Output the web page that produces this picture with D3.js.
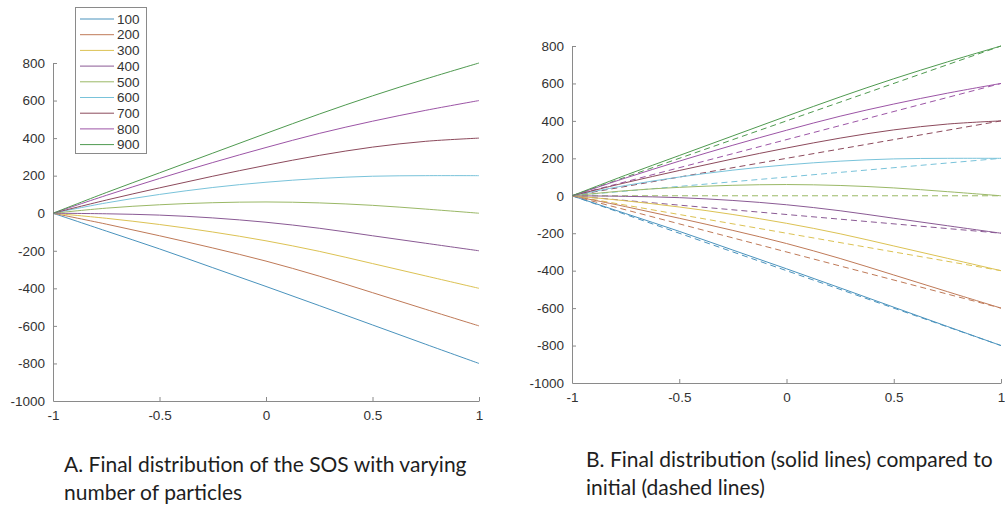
<!DOCTYPE html>
<html><head><meta charset="utf-8">
<script src="https://cdn.jsdelivr.net/npm/d3@7"></script>
<style>body{margin:0;background:#fff}svg{display:block}</style>
</head><body>
<svg id="c" width="1005" height="507"></svg>
<script>
// ---- data ----
const xs = [-1, -0.75, -0.5, -0.25, 0, 0.25, 0.5, 0.75, 1];
const particles = ["100","200","300","400","500","600","700","800","900"];
const final100 = [0, -95, -190, -290, -390, -492, -595, -698, -800];
const final200 = [0, -58, -120, -185, -255, -335, -423, -512, -600];
const final300 = [0, -27, -60, -100, -147, -203, -268, -334, -400];
const final400 = [0, -3, -10, -25, -48, -80, -120, -160, -200];
const final500 = [0, 27, 45, 56, 60, 55, 42, 22, 0];
const final600 = [0, 55, 100, 137, 165, 185, 197, 200, 200];
const final700 = [0, 70, 135, 197, 255, 308, 352, 383, 400];
const final800 = [0, 95, 185, 270, 350, 425, 490, 548, 600];
const final900 = [0, 110, 215, 320, 425, 528, 625, 715, 800];
const initialXs = [-1, 1];
const initial100 = [0, -800];
const initial200 = [0, -600];
const initial300 = [0, -400];
const initial400 = [0, -200];
const initial500 = [0, 0];
const initial600 = [0, 200];
const initial700 = [0, 400];
const initial800 = [0, 600];
const initial900 = [0, 800];
const xTicks = [-1, -0.5, 0, 0.5, 1];
const yTicks = [-1000, -800, -600, -400, -200, 0, 200, 400, 600, 800];
const captionA = ["A. Final distribution of the SOS with varying", "number of particles"];
const captionB = ["B. Final distribution (solid lines) compared to", "initial (dashed lines)"];

const finals = [final100, final200, final300, final400, final500, final600, final700, final800, final900];
const initials = [initial100, initial200, initial300, initial400, initial500, initial600, initial700, initial800, initial900];
const colors = ["#4a93bd", "#bf7a58", "#dcc253", "#8a5a94", "#9ab866", "#79c3da", "#8c4a5c", "#9c55a6", "#4f9a50"];

const svg = d3.select("#c");
const axisColor = "#8a8a8a";
const textColor = "#333";
const tickFont = "13.5px";

function panel(left, right, top, bottom, withInitial, withLegend) {
  const x = d3.scaleLinear().domain([-1, 1]).range([left, right]);
  const y = d3.scaleLinear().domain([-1000, 800]).range([bottom, top]);
  const g = svg.append("g");
  const xa = g.append("g").attr("transform", `translate(0,${bottom})`)
    .call(d3.axisBottom(x).tickValues(xTicks).tickSize(-4).tickSizeOuter(0).tickPadding(9).tickFormat(d => String(d)));
  const ya = g.append("g").attr("transform", `translate(${left},0)`)
    .call(d3.axisLeft(y).tickValues(yTicks).tickSize(-4).tickSizeOuter(0).tickPadding(8).tickFormat(d => String(d)));
  [xa, ya].forEach(a => {
    a.select(".domain").attr("stroke", axisColor);
    a.selectAll(".tick line").attr("stroke", axisColor);
    a.selectAll(".tick text").attr("fill", textColor).style("font-family", "Liberation Sans, Arial, sans-serif").style("font-size", tickFont);
  });
  ya.selectAll(".tick").filter(d => d === -1000).select("line").remove();
  const line = d3.line().x(d => x(d[0])).y(d => y(d[1])).curve(d3.curveCatmullRom.alpha(0.5));
  if (withInitial) {
    initials.forEach((s, i) => {
      g.append("path").datum(initialXs.map((xv, j) => [xv, s[j]]))
        .attr("d", d3.line().x(d => x(d[0])).y(d => y(d[1])))
        .attr("fill", "none").attr("stroke", colors[i]).attr("stroke-width", 1)
        .attr("stroke-dasharray", "6,4");
    });
  }
  finals.forEach((s, i) => {
    g.append("path").datum(xs.map((xv, j) => [xv, s[j]]))
      .attr("d", line).attr("fill", "none").attr("stroke", colors[i]).attr("stroke-width", 1);
  });
  if (withLegend) {
    const lg = svg.append("g");
    lg.append("rect").attr("x", 75.5).attr("y", 7.5).attr("width", 71).attr("height", 146)
      .attr("fill", "#fff").attr("stroke", axisColor);
    particles.forEach((p, i) => {
      const yy = 19 + i * 15.7;
      lg.append("line").attr("x1", 80).attr("x2", 114).attr("y1", yy).attr("y2", yy)
        .attr("stroke", colors[i]).attr("stroke-width", 1);
      lg.append("text").attr("x", 117).attr("y", yy).attr("dy", "0.35em").text(p)
        .attr("fill", textColor).style("font-family", "Liberation Sans, Arial, sans-serif").style("font-size", tickFont);
    });
  }
}

panel(53, 479, 63, 401, false, true);
panel(572, 1001, 46, 383, true, false);

function caption(lines, x0, y0) {
  lines.forEach((t, i) => {
    svg.append("text").attr("x", x0).attr("y", y0 + i * 28).text(t)
      .attr("fill", "#1e1e1e").style("font-family", "Lato, 'Open Sans', sans-serif").style("font-size", "21px");
  });
}
caption(captionA, 64, 472);
caption(captionB, 586, 467);
</script>
</body></html>
